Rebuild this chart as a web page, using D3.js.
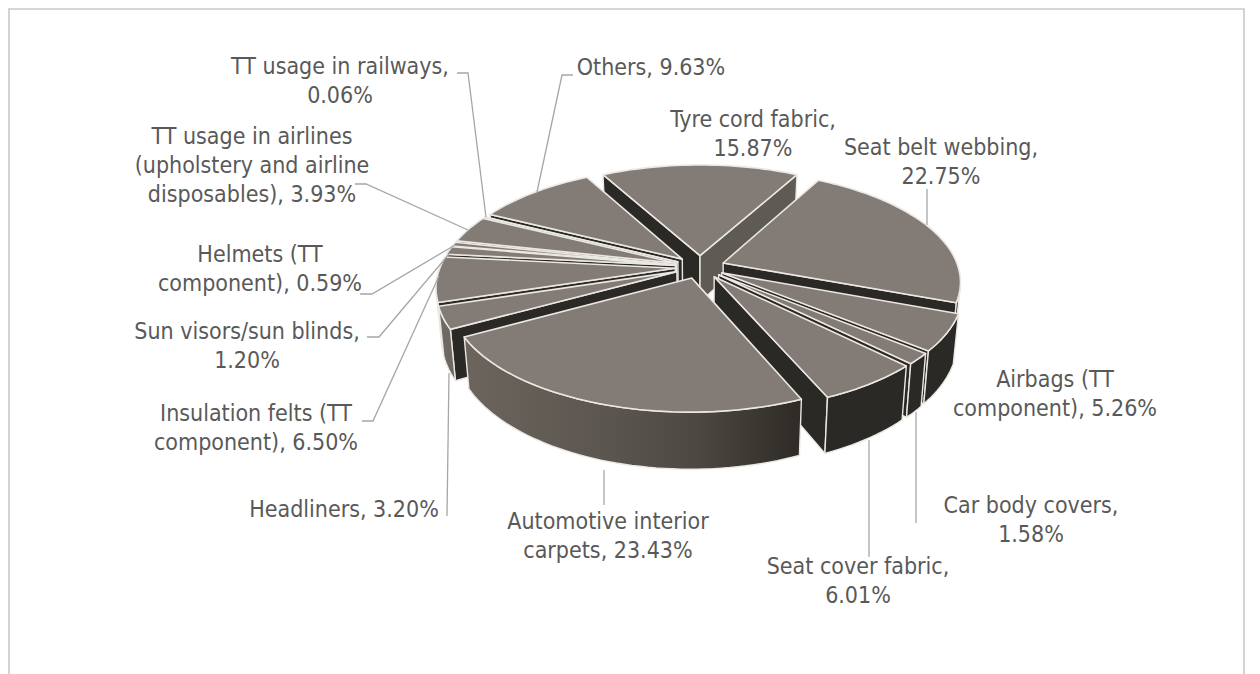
<!DOCTYPE html>
<html><head><meta charset="utf-8">
<script src="https://cdnjs.cloudflare.com/ajax/libs/d3/7.8.5/d3.min.js"></script>
<style>html,body{margin:0;background:#fff}svg{display:block}</style></head>
<body><div id="c"></div>
<script>
const categories=["Tyre cord fabric","Seat belt webbing","Airbags (TT component)","Car body covers","Seat cover fabric","Automotive interior carpets","Headliners","Insulation felts (TT component)","Sun visors/sun blinds","Helmets (TT component)","TT usage in airlines (upholstery and airline disposables)","TT usage in railways","Others"];
const shares=[15.87,22.75,5.26,1.58,6.01,23.43,3.20,6.50,1.20,0.59,3.93,0.06,9.63];
const labelLines=[["Tyre cord fabric,","15.87%"],["Seat belt webbing,","22.75%"],["Airbags (TT","component), 5.26%"],["Car body covers,","1.58%"],["Seat cover fabric,","6.01%"],["Automotive interior","carpets, 23.43%"],["Headliners, 3.20%"],["Insulation felts (TT","component), 6.50%"],["Sun visors/sun blinds,","1.20%"],["Helmets (TT","component), 0.59%"],["TT usage in airlines","(upholstery and airline","disposables), 3.93%"],["TT usage in railways,","0.06%"],["Others, 9.63%"]];
const labelAnchors=[[753,127],[941,155],[1055,387],[1031,513],[858,574],[608,529],[344,517],[256,421],[247,339],[260,262],[252,144],[340,74],[651,75]];
const leaders=[null,[[927,189],[927,225]],null,[[916,412],[916,523]],[[869,440],[869,557]],[[604,470],[604,505]],[[449,373],[447,516]],[[439,276],[373,421],[362,421]],[[449,254],[379,337],[367,337]],[[455,245],[372,294],[360,294]],[[468,230],[366,184],[355,184]],[[486,217],[468,73],[457,73]],[[537,192],[562,75],[573,75]]];

const W=1260,H=674,cx=700,cy=267,S=235,A=108.6,B=0.1604,explode=0.106,depth=47,shrink=0.98;
const svg=d3.select("#c").append("svg").attr("width",W).attr("height",H);
svg.append("path").attr("d",`M9,${H}V9H1244V${H}`).attr("fill","none").attr("stroke","#c9c9c9").attr("stroke-width",1.6);

const grad=svg.append("defs").append("linearGradient").attr("id","wallGrad").attr("gradientUnits","userSpaceOnUse").attr("x1",440).attr("x2",960).attr("y1",0).attr("y2",0);
[[0,"#6f6a63"],[0.06,"#6a645d"],[0.33,"#5a554e"],[0.49,"#4d4842"],[0.68,"#302d28"],[0.75,"#2b2925"],[1,"#2b2925"]].forEach(([o,c])=>grad.append("stop").attr("offset",o).attr("stop-color",c));

const rot=-shares[0]/100*Math.PI;
const arcs=d3.pie().sort(null).startAngle(rot).endAngle(rot+2*Math.PI)(shares);
const persp=y=>1/(1-B*y);
const upperPt=(x,y)=>{const f=persp(y);return [cx+S*x*f,cy+A*y*f];};
const lowerPt=(x,y)=>{const f=persp(y),p=upperPt(x,y);return [cx+(p[0]-cx)*shrink,p[1]+depth*f];};
const area=p=>d3.polygonArea(p);
const line=d=>"M"+d.map(p=>p.map(v=>v.toFixed(1)).join(",")).join("L")+"Z";
const edge="#ebe7e2";
const slices=arcs.map((a,i)=>{
  const mid=(a.startAngle+a.endAngle)/2,ox=explode*Math.sin(mid),oy=-explode*Math.cos(mid);
  const n=Math.max(2,Math.ceil((a.endAngle-a.startAngle)/0.03));
  const rim=d3.range(n+1).map(k=>{const t=a.startAngle+(a.endAngle-a.startAngle)*k/n;return [ox+Math.sin(t),oy-Math.cos(t)];});
  return {i,a,mid,apex:[ox,oy],rim};
});
const order=slices.slice().sort((p,q)=>(p.apex[1]-q.apex[1]));
order.forEach(s=>{
  const g=svg.append("g");
  const quad=(u,v)=>[upperPt(...u),upperPt(...v),lowerPt(...v),lowerPt(...u)];
  const wall=(u,v,fill)=>{
    const q=quad(u,v);
    if(area(q)<0) return;
    g.append("path").attr("d",line(q)).attr("fill",fill).attr("stroke",edge).attr("stroke-width",1.4).attr("stroke-linejoin","round");
  };
  const first=s.rim[0],last=s.rim[s.rim.length-1];
  wall(s.apex,first,"#2b2925");
  wall(last,s.apex,Math.cos(s.a.endAngle)>0.5?"#5e5b55":"#2b2925");
  const upper=[],lower=[];
  s.rim.forEach((p,k)=>{
    if(k==0)return;
    const u=s.rim[k-1];
    if(area(quad(u,p))>=0){upper.push(upperPt(...u),upperPt(...p));lower.push(lowerPt(...u),lowerPt(...p));}
  });
  if(upper.length)g.append("path").attr("d",line(upper.concat(lower.reverse()))).attr("fill","url(#wallGrad)").attr("stroke",edge).attr("stroke-width",1.4).attr("stroke-linejoin","round");
  const face=[upperPt(...s.apex)].concat(s.rim.map(p=>upperPt(...p)));
  g.append("path").attr("class","face").attr("d",line(face)).attr("fill","#837b75").attr("stroke",edge).attr("stroke-width",1.6).attr("stroke-linejoin","round");
});
const lg=svg.append("g").attr("fill","none").attr("stroke","#a6a6a6").attr("stroke-width",1.3);
leaders.forEach(l=>{if(l)lg.append("path").attr("d",d3.line()(l));});
const tg=svg.append("g").attr("font-family","'DejaVu Sans',sans-serif").attr("font-stretch","condensed").attr("font-size",23).attr("fill","#595959").attr("text-anchor","middle");
labelLines.forEach((ls,i)=>{
  const [x,y]=labelAnchors[i];
  const t=tg.append("text").attr("x",x).attr("y",y);
  ls.forEach((s,k)=>t.append("tspan").attr("x",x).attr("dy",k?29:0).text(s));
});
</script></body></html>
